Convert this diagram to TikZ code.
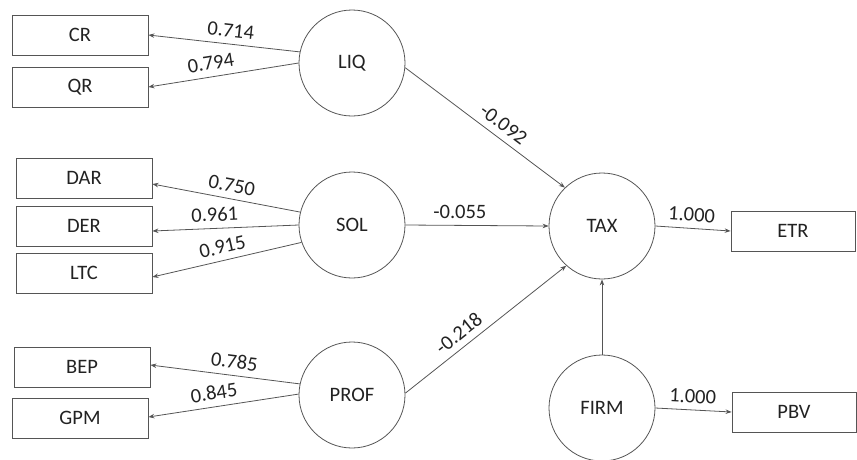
\documentclass[tikz,border=0pt]{standalone}
\usepackage{fontspec}
\setmainfont{Carlito}
\usetikzlibrary{arrows.meta}
\definecolor{lc}{HTML}{555555}
\definecolor{tc}{HTML}{222222}
\begin{document}
\begin{tikzpicture}[x=1pt,y=-1pt,
  font=\fontsize{20.5}{24}\selectfont,
  ind/.style={draw=lc,line width=0.8pt,rectangle,minimum width=136pt,minimum height=40pt,inner sep=0pt,text=tc},
  indr/.style={ind,minimum width=124pt},
  lat/.style={draw=lc,line width=0.8pt,circle,minimum size=106pt,inner sep=0pt,text=tc},
  arr/.style={draw=lc,line width=0.8pt,-{Stealth[length=6pt,width=4.5pt]}},
  lab/.style={sloped,above=5pt,inner sep=1.5pt,text=tc}]
\useasboundingbox (0,0) rectangle (857,459);
% indicators
\node[ind] (CR)  at (80,35)  {CR};
\node[ind] (QR)  at (80,87)  {QR};
\node[ind] (DAR) at (84,178) {DAR};
\node[ind] (DER) at (84,226) {DER};
\node[ind] (LTC) at (84,273) {LTC};
\node[ind] (BEP) at (82,367) {BEP};
\node[ind] (GPM) at (80,418) {GPM};
\node[indr] (ETR) at (793,231) {ETR};
\node[indr] (PBV) at (794,412) {PBV};
% latent variables
\node[lat] (LIQ)  at (352,63)  {LIQ};
\node[lat] (SOL)  at (352,225) {SOL};
\node[lat] (PROF) at (352,395) {PROF};
\node[lat] (TAX)  at (602,226) {TAX};
\node[lat] (FIRM) at (602,408) {FIRM};
% outer loadings
\draw[arr] (LIQ.168) -- node[lab,pos=0.465] {0.714} (CR.east);
\draw[arr] (LIQ.180) -- node[lab,pos=0.57] {0.794} (QR.east);
\draw[arr] (SOL.166) -- node[lab,pos=0.48] {0.750} ([yshift=-6pt]DAR.east);
\draw[arr] (SOL.180) -- node[lab,pos=0.57] {0.961} ([yshift=-5pt]DER.east);
\draw[arr] (SOL.199) -- node[lab,pos=0.51] {0.915} ([yshift=-4pt]LTC.east);
\draw[arr] (PROF.168) -- node[lab,pos=0.45] {0.785} ([yshift=2pt]BEP.east);
\draw[arr] (PROF.179) -- node[lab,pos=0.55] {0.845} ([yshift=1pt]GPM.east);
% path coefficients
\draw[arr] (LIQ.-5) -- node[lab,pos=0.565] {-0.092} (TAX.134);
\draw[arr] (SOL.east) -- node[lab,pos=0.38] {-0.055} (TAX.west);
\draw[arr] (PROF.2) -- node[lab,pos=0.385] {-0.218} (TAX.228);
\draw[arr] (TAX.east) -- node[lab,pos=0.47] {1.000} (ETR.west);
\draw[arr] (FIRM.east) -- node[lab,pos=0.48] {1.000} (PBV.west);
\draw[arr] (FIRM) -- (TAX);
\end{tikzpicture}
\end{document}
